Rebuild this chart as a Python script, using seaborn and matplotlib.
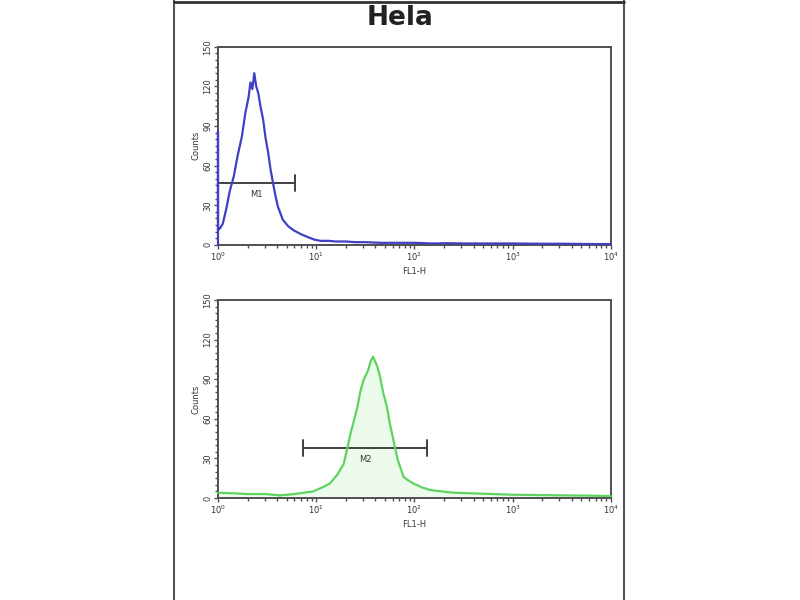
import matplotlib
matplotlib.use("Agg")
import matplotlib.pyplot as plt
import seaborn as sns
import pandas as pd
from matplotlib.lines import Line2D
from matplotlib.ticker import LogLocator, MultipleLocator, FixedLocator

# --- data ---
# top panel (blue), FL1-H channel vs counts
fl_top = [1.0, 1.0, 1.0, 1.06, 1.12, 1.22, 1.32, 1.45, 1.58, 1.75, 1.9, 2.05, 2.14, 2.24, 2.34, 2.45,
          2.57, 2.72, 2.88, 3.05, 3.24, 3.43, 3.63, 3.85, 4.07, 4.57, 5.2, 5.89, 7.0, 8.13, 9.5,
          11.0, 13.5, 15.8, 20.0, 25.0, 31.6, 45.0, 63.0, 100, 150, 220, 316, 500, 1000, 2000,
          3162, 6000, 10000]
cnt_top = [0, 86, 11, 13, 16, 28, 41, 52, 67, 82, 100, 112, 123, 118, 130, 120,
           115, 104, 95, 81, 70, 57, 47, 37, 29, 19, 14, 11, 8, 6, 4,
           3, 3, 2.5, 2.5, 2, 2, 1.5, 1.5, 1.5, 1, 1.2, 1, 1, 1, 0.8,
           0.8, 0.6, 0.5]

# bottom panel (green)
fl_bot = [1.0, 1.5, 2.0, 3.0, 4.27, 6.0, 7.5, 9.33, 11.5, 13.8, 16.5, 19.1, 22.4, 26.3,
          28.0, 30.2, 33.9, 36.0, 38.0, 41.7, 44.7, 48.0, 52.5, 56.0, 60.3, 67.6, 77.6,
          88.0, 97.7, 120, 145, 190, 251, 400, 630, 1000, 2000, 3162, 6000, 10000]
cnt_bot = [4, 3.5, 3, 3, 2, 3, 4, 5, 8, 11, 18, 26, 49, 69,
           80, 89, 97, 104, 107, 100, 92, 80, 69, 57, 46, 29, 16,
           13, 11, 8, 6, 5, 4, 3.5, 3, 2.5, 2.2, 2, 1.8, 1.5]

top_df = pd.DataFrame({"FL1-H": fl_top, "Counts": cnt_top})
bot_df = pd.DataFrame({"FL1-H": fl_bot, "Counts": cnt_bot})

# gate markers: (start, end, height, label)
gate_top = (1.0, 6.1, 47, "M1")
gate_bot = (7.4, 135, 38, "M2")

sns.set_style("white")
plt.rcParams['font.family'] = ['DejaVu Sans']

fig = plt.figure(figsize=(8, 6), dpi=100)
ax1 = fig.add_axes([0.2725, 0.592, 0.491, 0.330])
ax2 = fig.add_axes([0.2725, 0.170, 0.491, 0.330])

edge = "#505050"


def draw_panel(ax, df, color, gate, fill=None):
    if fill is not None:
        ax.fill_between(df["FL1-H"], df["Counts"], color=fill, alpha=0.25, lw=0)
    sns.lineplot(data=df, x="FL1-H", y="Counts", sort=False, estimator=None,
                 color=color, lw=1.6, ax=ax, clip_on=False, zorder=5)
    ax.set_xscale("log")
    ax.set_xlim(1, 10000)
    ax.set_ylim(0, 150)
    ax.yaxis.set_major_locator(FixedLocator([0, 30, 60, 90, 120, 150]))
    ax.yaxis.set_minor_locator(MultipleLocator(5))
    ax.xaxis.set_major_locator(LogLocator(base=10))
    ax.xaxis.set_minor_locator(LogLocator(base=10, subs=range(2, 10)))
    ax.tick_params(axis="both", which="major", direction="out", length=3, width=1,
                   colors=edge, labelsize=6, labelcolor="#333333", pad=1)
    ax.tick_params(axis="both", which="minor", direction="out", length=2, width=1,
                   colors=edge)
    ax.tick_params(axis="x", bottom=True, which="both")
    ax.tick_params(axis="y", left=True, which="both")
    for lab in ax.get_yticklabels():
        lab.set_rotation(90)
        lab.set_va("center")
    ax.set_xlabel("FL1-H", fontsize=6, color="#333333", labelpad=3)
    ax.set_ylabel("Counts", fontsize=6, color="#333333", labelpad=2)
    for s in ax.spines.values():
        s.set_color(edge)
        s.set_linewidth(1.4)
    x0, x1, h, lab = gate
    ax.plot([x0, x1], [h, h], color="#404040", lw=1.4)
    ax.plot([x0, x0], [h - 6, h + 6], color="#404040", lw=1.4)
    ax.plot([x1, x1], [h - 6, h + 6], color="#404040", lw=1.4)
    xm = (x0 * x1) ** 0.5
    ax.text(xm, h - 9, lab, fontsize=6, color="#333333", ha="center", va="center")


draw_panel(ax1, top_df, "#4040c4", gate_top)
draw_panel(ax2, bot_df, "#5ed35e", gate_bot, fill="#b8f0b8")

fig.text(0.5, 0.970, "Hela", ha="center", va="center", fontsize=19, fontweight="bold",
         color="#222222")

# outer frame
for xx in (0.2175, 0.78):
    fig.add_artist(Line2D([xx, xx], [0, 1], color="#555555", lw=1.5))
fig.add_artist(Line2D([0.2175, 0.78], [0.997, 0.997], color="#333333", lw=2))

fig.savefig("out.png", dpi=100)
